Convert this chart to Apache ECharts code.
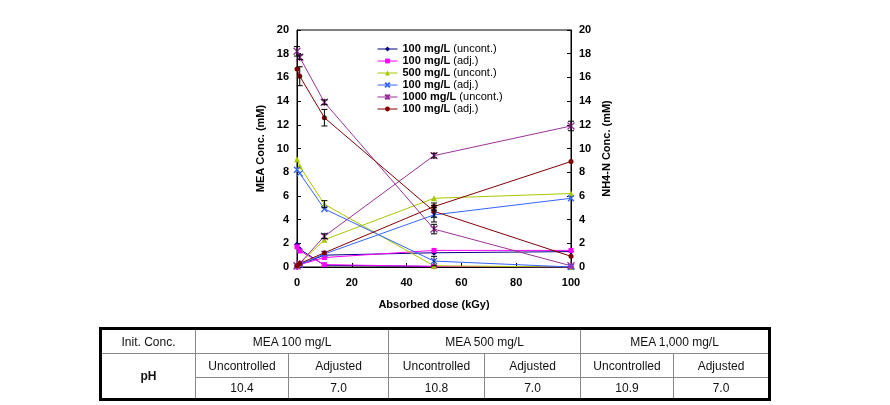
<!DOCTYPE html>
<html><head><meta charset="utf-8">
<script src="https://cdn.jsdelivr.net/npm/echarts@6/dist/echarts.min.js"></script>
<style>
html,body{margin:0;padding:0;background:#fff;}
#c{position:absolute;left:0;top:0;width:890px;height:405px;}
#t{position:absolute;left:99px;top:327px;width:671px;height:74px;border-collapse:collapse;table-layout:fixed;border:3px solid #000;font-family:"Liberation Sans",Arial,sans-serif;font-size:12px;color:#111;}
#t td{border:1px solid #888;text-align:center;padding:0;}
</style></head>
<body>
<div id="c"></div>
<table id="t">
<colgroup><col style="width:95px"><col style="width:93px"><col style="width:100px"><col style="width:96px"><col style="width:96px"><col style="width:93px"><col style="width:96px"></colgroup>
<tr style="height:25px"><td id="h0"></td><td colspan="2" id="h1"></td><td colspan="2" id="h2"></td><td colspan="2" id="h3"></td></tr>
<tr style="height:24px"><td rowspan="2" id="ph" style="font-weight:bold"></td><td class="s"></td><td class="s"></td><td class="s"></td><td class="s"></td><td class="s"></td><td class="s"></td></tr>
<tr style="height:22px"><td class="p"></td><td class="p"></td><td class="p"></td><td class="p"></td><td class="p"></td><td class="p"></td></tr>
</table>
<script>
// ---- data ----
const doses = [0, 1, 10, 50, 100];
const seriesLabels = ['100 mg/L (uncont.)','100 mg/L (adj.)','500 mg/L (uncont.)','100 mg/L (adj.)','1000 mg/L (uncont.)','100 mg/L (adj.)'];
const meaNavy    = [1.9, 1.5, 0.15, 0.05, 0];
const meaMagenta = [1.7, 1.35, 0.2, 0.05, 0];
const meaYellow  = [9.1, 8.5, 5.3, 0.1, 0];
const meaBlue    = [8.2, 7.9, 4.9, 0.5, 0];
const meaPurple  = [18.2, 17.7, 13.9, 3.2, 0.1];
const meaRed     = [16.7, 16.1, 12.6, 4.7, 0.9];
const nhNavy     = [0, 0.2, 1.0, 1.2, 1.3];
const nhMagenta  = [0, 0.2, 0.8, 1.4, 1.4];
const nhYellow   = [0.1, 0.3, 2.3, 5.8, 6.2];
const nhBlue     = [0.1, 0.2, 1.1, 4.4, 5.8];
const nhPurple   = [0.1, 0.3, 2.6, 9.4, 11.9];
const nhRed      = [0.1, 0.3, 1.2, 5.1, 8.9];
// error bars (± value)
const errMeaPurple = [0.4, 0.2, 0.2, 0.4, 0];
const errMeaRed    = [0, 0.8, 0.7, 0.5, 0];
const errMeaYellow = [0, 0, 0.3, 0, 0];
const errMeaBlue   = [0, 0, 0, 0.4, 0];
const errNhPurple  = [0, 0, 0.2, 0.2, 0.4];
const errNhRed     = [0, 0, 0, 0.3, 0];
const errNhBlue    = [0, 0, 0, 0.6, 0];
// table texts
const tblHead = ['Init. Conc.', 'MEA 100 mg/L', 'MEA 500 mg/L', 'MEA 1,000 mg/L'];
const tblRowLabel = 'pH';
const tblSub = ['Uncontrolled','Adjusted','Uncontrolled','Adjusted','Uncontrolled','Adjusted'];
const tblPH = ['10.4','7.0','10.8','7.0','10.9','7.0'];

document.getElementById('h0').textContent = tblHead[0];
document.getElementById('h1').textContent = tblHead[1];
document.getElementById('h2').textContent = tblHead[2];
document.getElementById('h3').textContent = tblHead[3];
document.getElementById('ph').textContent = tblRowLabel;
document.querySelectorAll('#t td.s').forEach((td,i)=>td.textContent = tblSub[i]);
document.querySelectorAll('#t td.p').forEach((td,i)=>td.textContent = tblPH[i]);

const seriesIds = seriesLabels.map((_,i)=>'s'+i);
const xPath = 'path://M0,0L10,10M10,0L0,10';
const starPath = 'path://M0,0L10,10M10,0L0,10M5,0L5,10';
const styles = [
  {color:'#000080', symbol:'diamond', size:6},
  {color:'#FF00FF', symbol:'rect', size:5},
  {color:'#A8C800', symbol:'triangle', size:6},
  {color:'#3366FF', symbol:xPath, size:6},
  {color:'#993399', symbol:starPath, size:7},
  {color:'#800000', symbol:'circle', size:5}
];
const mea = [meaNavy, meaMagenta, meaYellow, meaBlue, meaPurple, meaRed];
const nh  = [nhNavy, nhMagenta, nhYellow, nhBlue, nhPurple, nhRed];

function pts(arr){ return doses.map((d,i)=>[d, arr[i]]); }
const series = [];
for (let k=0;k<6;k++){
  for (let a=0;a<2;a++){
    const isPath = styles[k].symbol.startsWith('path');
    series.push({
      name: seriesIds[k], type:'line', yAxisIndex:a,
      data: pts(a===0?mea[k]:nh[k]),
      symbol: styles[k].symbol, symbolSize: styles[k].size, showSymbol:true,
      lineStyle:{color:styles[k].color, width:1},
      itemStyle: isPath ? {color:'none', borderColor:styles[k].color, borderWidth:1.3} : {color:styles[k].color, borderColor:styles[k].color, borderWidth:0},
      emphasis:{disabled:true}, animation:false, z:3
    });
  }
}
function errSeries(vals, errs, axis){
  const d = [];
  doses.forEach((x,i)=>{ if(errs[i]>0) d.push([x, vals[i], errs[i]]); });
  return {
    type:'custom', yAxisIndex:axis, data:d, z:4, silent:true, animation:false,
    renderItem: function(params, api){
      const x = api.value(0), v = api.value(1), e = api.value(2);
      const p1 = api.coord([x, v+e]), p2 = api.coord([x, v-e]);
      const c = 3;
      const st = {stroke:'#000', lineWidth:1};
      return {type:'group', children:[
        {type:'line', shape:{x1:p1[0],y1:p1[1],x2:p2[0],y2:p2[1]}, style:st},
        {type:'line', shape:{x1:p1[0]-c,y1:p1[1],x2:p1[0]+c,y2:p1[1]}, style:st},
        {type:'line', shape:{x1:p2[0]-c,y1:p2[1],x2:p2[0]+c,y2:p2[1]}, style:st}
      ]};
    }
  };
}
series.push(errSeries(meaPurple, errMeaPurple, 0));
series.push(errSeries(meaRed, errMeaRed, 0));
series.push(errSeries(meaYellow, errMeaYellow, 0));
series.push(errSeries(meaBlue, errMeaBlue, 0));
series.push(errSeries(nhPurple, errNhPurple, 1));
series.push(errSeries(nhRed, errNhRed, 1));
series.push(errSeries(nhBlue, errNhBlue, 1));

const FONT = '"Liberation Sans", Arial, sans-serif';
const yAxisCommon = {
  type:'value', min:0, max:20, interval:2,
  splitLine:{show:false},
  axisLine:{show:true, lineStyle:{color:'#000', width:1}},
  axisTick:{show:true, inside:true, length:4, lineStyle:{color:'#000'}},
  axisLabel:{fontFamily:FONT, fontSize:11, fontWeight:'bold', color:'#000', margin:8},
  nameLocation:'middle', nameRotate:90,
  nameTextStyle:{fontFamily:FONT, fontSize:11, fontWeight:'bold', color:'#000'}
};
const chart = echarts.init(document.getElementById('c'), null, {renderer:'canvas'});
chart.setOption({
  animation:false,
  backgroundColor:'transparent',
  grid:{left:297, right:319, top:30, bottom:138, show:true, borderColor:'#000', borderWidth:1},
  legend:{
    orient:'vertical', left:372, top:38, itemWidth:20, itemHeight:6, itemGap:0,
    data: seriesIds,
    lineStyle:{width:1},
    formatter: function(id){ const n = seriesLabels[seriesIds.indexOf(id)]; const m = n.match(/^(.*mg\/L)\s*(.*)$/); return '{b|'+m[1]+'} {n|'+m[2]+'}'; },
    textStyle:{fontFamily:FONT, fontSize:11, color:'#000', lineHeight:12, rich:{b:{fontWeight:'bold', fontFamily:FONT, fontSize:11, lineHeight:12}, n:{fontFamily:FONT, fontSize:11, lineHeight:12}}},
    selectedMode:false
  },
  xAxis:{
    type:'value', min:0, max:100, interval:20,
    name:'Absorbed dose (kGy)', nameLocation:'middle', nameGap:32,
    nameTextStyle:{fontFamily:FONT, fontSize:11, fontWeight:'bold', color:'#000'},
    splitLine:{show:false},
    axisLine:{lineStyle:{color:'#000'}},
    axisTick:{inside:true, length:4, lineStyle:{color:'#000'}},
    axisLabel:{fontFamily:FONT, fontSize:11, fontWeight:'bold', color:'#000', margin:10}
  },
  yAxis:[
    Object.assign({}, yAxisCommon, {position:'left', name:'MEA Conc. (mM)', nameGap:31}),
    Object.assign({}, yAxisCommon, {position:'right', name:'NH4-N Conc. (mM)', nameGap:30, nameRotate:90})
  ],
  series: series
});
</script>
</body></html>
